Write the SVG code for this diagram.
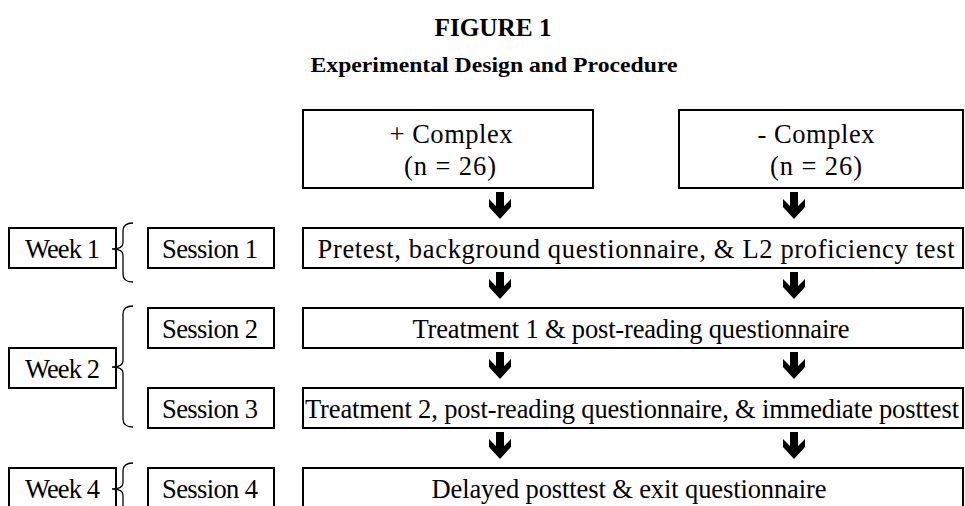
<svg xmlns="http://www.w3.org/2000/svg" width="965" height="506" viewBox="0 0 965 506">
<defs>
<style>
.box{fill:#fff;stroke:#000;stroke-width:2}
.t{font-family:"Liberation Serif","Times New Roman",serif;font-size:26.5px;fill:#000;text-anchor:middle}
.h{font-family:"Liberation Serif","Times New Roman",serif;font-weight:bold;fill:#000;text-anchor:middle}
.br{fill:none;stroke:#000;stroke-width:1.3}
.ar{fill:#000}
</style>
<path id="arrow" d="M-4,0 L4,0 L4,14 L11,7 L11,15 L0,27 L-11,15 L-11,7 L-4,14 Z"/>
</defs>
<rect width="965" height="506" fill="#fff"/>
<text class="h" x="493" y="36" font-size="25" textLength="117" lengthAdjust="spacingAndGlyphs">FIGURE 1</text>
<text class="h" x="494" y="72" font-size="22" textLength="367" lengthAdjust="spacingAndGlyphs">Experimental Design and Procedure</text>

<g id="plus-complex"><rect class="box" x="303" y="110" width="290" height="78"/><text class="t" x="451" y="143" textLength="123">+ Complex</text><text class="t" x="450" y="175" textLength="92">(n = 26)</text></g>
<g id="minus-complex"><rect class="box" x="679" y="110" width="284" height="78"/><text class="t" x="816" y="143" textLength="117">- Complex</text><text class="t" x="816" y="175" textLength="92">(n = 26)</text></g>

<g id="week1"><rect class="box" x="9" y="228" width="107" height="40"/><text class="t" x="62.5" y="258" textLength="75">Week 1</text></g>
<g id="session1"><rect class="box" x="148" y="228" width="126" height="40"/><text class="t" x="210" y="258" textLength="96">Session 1</text></g>
<g id="pretest"><rect class="box" x="303" y="228" width="660" height="40"/><text class="t" x="636" y="258" textLength="637">Pretest, background questionnaire, &amp; L2 proficiency test</text></g>

<g id="session2"><rect class="box" x="148" y="308" width="126" height="40"/><text class="t" x="210" y="338" textLength="96">Session 2</text></g>
<g id="treatment1"><rect class="box" x="303" y="308" width="660" height="40"/><text class="t" x="631" y="338" textLength="437">Treatment 1 &amp; post-reading questionnaire</text></g>

<g id="week2"><rect class="box" x="9" y="348" width="107" height="40"/><text class="t" x="62.5" y="378" textLength="75">Week 2</text></g>

<g id="session3"><rect class="box" x="148" y="388" width="126" height="40"/><text class="t" x="210" y="418" textLength="96">Session 3</text></g>
<g id="treatment2"><rect class="box" x="303" y="388" width="660" height="40"/><text class="t" x="632" y="418" textLength="654">Treatment 2, post-reading questionnaire, &amp; immediate posttest</text></g>

<g id="week4"><rect class="box" x="9" y="468" width="107" height="40"/><text class="t" x="62.5" y="498" textLength="75">Week 4</text></g>
<g id="session4"><rect class="box" x="148" y="468" width="126" height="40"/><text class="t" x="210" y="498" textLength="96">Session 4</text></g>
<g id="delayed"><rect class="box" x="303" y="468" width="660" height="40"/><text class="t" x="629" y="498" textLength="395">Delayed posttest &amp; exit questionnaire</text></g>

<g id="connectors">
<path class="br" d="M133,223 Q123,223 123,231 L123,243 Q123,249 112,249 Q123,249 123,255 L123,274 Q123,282 133,282"/>
<path class="br" d="M133,306 Q123,306 123,314 L123,361 Q123,367 112,367 Q123,367 123,373 L123,419 Q123,427 133,427"/>
<path class="br" d="M133,463 Q123,463 123,471 L123,483 Q123,489 112,489 Q123,489 123,495 L123,510"/>
<use href="#arrow" class="ar" x="500" y="192"/>
<use href="#arrow" class="ar" x="794" y="192"/>
<use href="#arrow" class="ar" x="500" y="272"/>
<use href="#arrow" class="ar" x="794" y="272"/>
<use href="#arrow" class="ar" x="500" y="352"/>
<use href="#arrow" class="ar" x="794" y="352"/>
<use href="#arrow" class="ar" x="500" y="432"/>
<use href="#arrow" class="ar" x="794" y="432"/>
</g>
</svg>
